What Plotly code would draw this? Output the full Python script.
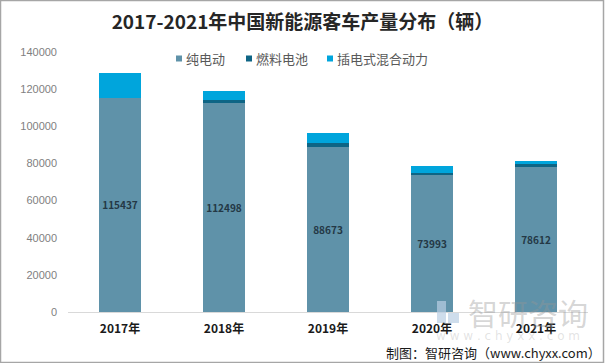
import plotly.graph_objects as go

years = ["2017年", "2018年", "2019年", "2020年", "2021年"]
pure_ev = [115437, 112498, 88673, 73993, 78612]
fuel_cell = [0, 1500, 2400, 1000, 1000]
plugin_hybrid = [13300, 4900, 5200, 3550, 1800]
y_ticks = [0, 20000, 40000, 60000, 80000, 100000, 120000, 140000]
series_names = ["纯电动", "燃料电池", "插电式混合动力"]
series_colors = ["#5f92a9", "#0e6585", "#00a5dc"]

L, R, T, B = 68, 17, 52, 51
W, H = 605, 363
pw, ph = W - L - R, H - T - B

def px(x):
    return (x - L) / pw

def py(y):
    return (H - B - y) / ph

fig = go.Figure()
fig.add_trace(go.Bar(
    x=years, y=pure_ev, name=series_names[0], marker_color=series_colors[0],
    text=[f"<b>{v}</b>" for v in pure_ev], textposition="inside", insidetextanchor="middle",
    textfont=dict(size=12, color="#243845", family="Noto Sans CJK SC"),
    textangle=0,
))
fig.add_trace(go.Bar(x=years, y=fuel_cell, name=series_names[1], marker_color=series_colors[1]))
fig.add_trace(go.Bar(x=years, y=plugin_hybrid, name=series_names[2], marker_color=series_colors[2]))

fig.update_traces(marker_line_width=0)
fig.update_layout(
    barmode="stack", bargap=0.6,
    width=W, height=H,
    margin=dict(l=L, r=R, t=T, b=B),
    paper_bgcolor="white", plot_bgcolor="white",
    font=dict(family="Noto Sans CJK SC", color="#595959"),
    title=dict(text="<b>2017-2021年中国新能源客车产量分布（辆）</b>", x=0.5, xanchor="center",
               y=1 - 22 / H, yanchor="middle", font=dict(size=19, color="#262626")),
    showlegend=False,
    uniformtext=dict(mode="show", minsize=8),
)
fig.update_xaxes(showline=True, linecolor="#d9d9d9", linewidth=1,
                 tickfont=dict(size=12, color="#1a1a1a", family="Noto Sans CJK SC"),
                 tickprefix="<b>", ticksuffix="</b>", ticks="", ticklabelstandoff=6)
fig.update_yaxes(range=[0, 140000], tickvals=y_ticks, ticktext=[str(v) for v in y_ticks],
                 showgrid=False, zeroline=False, showline=False,
                 tickfont=dict(size=11, color="#7f7f7f", family="Liberation Sans"), ticklabelstandoff=10)

# manual legend
leg_sq = [176, 246, 327]
for name, color, x0 in zip(series_names, series_colors, leg_sq):
    fig.add_shape(type="rect", xref="paper", yref="paper", x0=px(x0), x1=px(x0 + 6),
                  y0=py(61.5), y1=py(55.5), fillcolor=color, line_width=0)
    fig.add_annotation(text=name, xref="paper", yref="paper", x=px(x0 + 8), y=py(58),
                       xanchor="left", yanchor="middle", showarrow=False,
                       font=dict(size=13, color="#595959", family="Noto Sans CJK SC"))

# watermark
fig.add_shape(type="rect", xref="paper", yref="paper", x0=px(437), x1=px(446), y0=py(323), y1=py(301),
              fillcolor="#b9cfe4", line_width=0, opacity=0.7)
fig.add_shape(type="rect", xref="paper", yref="paper", x0=px(448), x1=px(459), y0=py(323), y1=py(313),
              fillcolor="#b9cfe4", line_width=0, opacity=0.7)
fig.add_annotation(text="智研咨询", xref="paper", yref="paper", x=px(528), y=py(312), showarrow=False,
                   xanchor="center", yanchor="middle",
                   font=dict(size=30, color="rgba(150,150,150,0.4)", family="Noto Sans CJK SC"))
fig.add_annotation(text="w w w . c h y x x . c o m", xref="paper", yref="paper", x=px(508), y=py(336),
                   xanchor="center", yanchor="middle", showarrow=False,
                   font=dict(size=12, color="rgba(160,160,160,0.3)", family="DejaVu Sans"))
fig.add_annotation(text="制图：智研咨询（www.chyxx.com）", xref="paper", yref="paper",
                   x=px(603), y=py(352), xanchor="right", yanchor="middle", showarrow=False,
                   font=dict(size=13, color="#1a1a1a", family="Noto Sans CJK SC"))
# border
fig.add_shape(type="rect", xref="paper", yref="paper", x0=px(0.5), x1=px(603.5), y0=py(362.5), y1=py(0.5),
              line=dict(color="#a6a6a6", width=1.5), fillcolor="rgba(0,0,0,0)", layer="above")

fig.write_html("out.html", config={"displayModeBar": False},
               post_script="document.body.style.margin='0';document.body.style.overflow='hidden';")
